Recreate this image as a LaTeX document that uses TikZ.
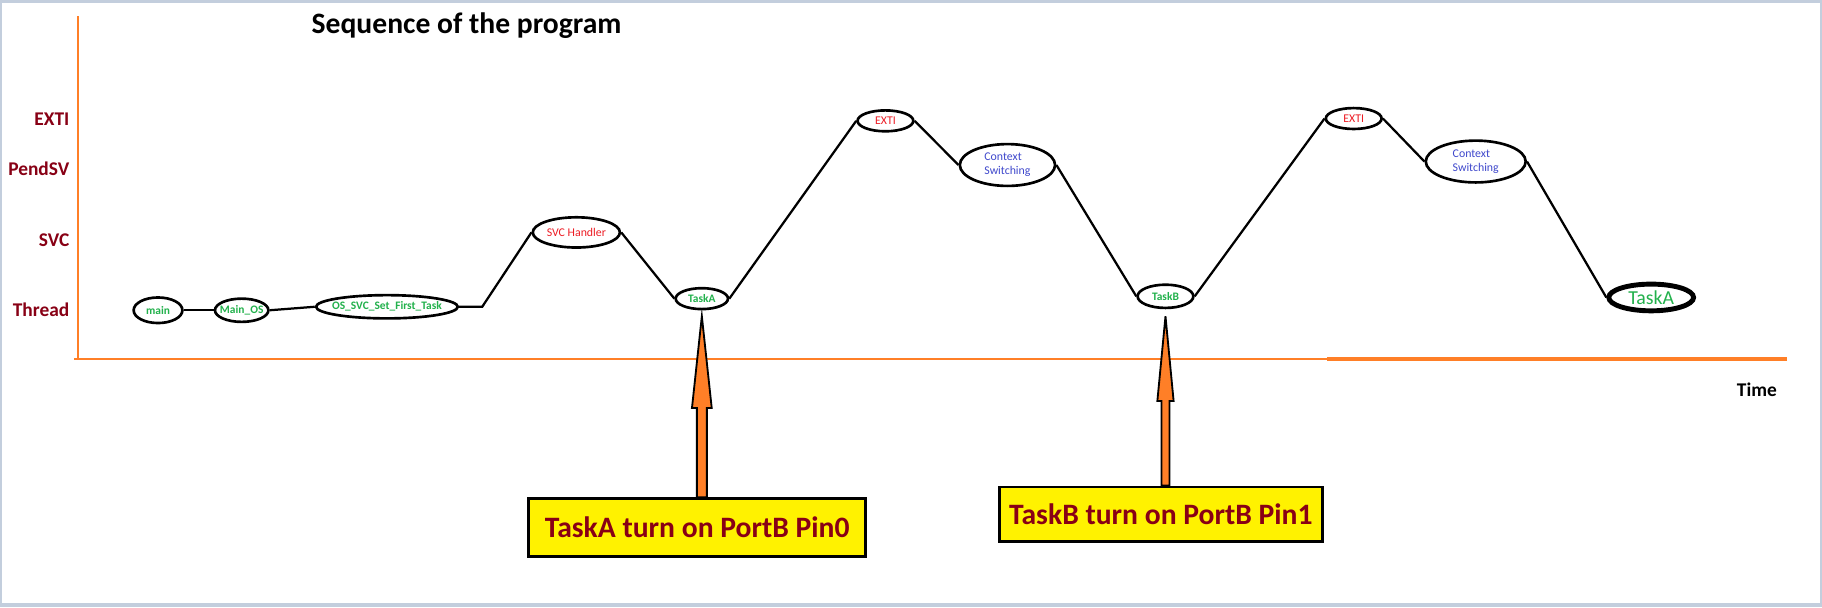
\documentclass[tikz,border=0pt]{standalone}
\usepackage{fontspec}
\setmainfont{Carlito}
\usetikzlibrary{shapes.geometric,calc}

\definecolor{axisorange}{HTML}{FF7F27}
\definecolor{levelred}{HTML}{880015}
\definecolor{taskgreen}{HTML}{22B14C}
\definecolor{isrred}{HTML}{ED1C24}
\definecolor{switchblue}{HTML}{3F48CC}
\definecolor{noteyellow}{HTML}{FFF200}
\definecolor{framegray}{HTML}{C3CEDD}

\begin{document}
\begin{tikzpicture}[x=0.2mm, y=-0.2mm,
    state/.style={ellipse, draw, line width=1.3pt, inner xsep=-20pt, inner ysep=-10pt, font=\fontsize{5.8}{6.8}\selectfont},
    task/.style={state, text=taskgreen, font=\fontsize{5.6}{6.8}\selectfont\bfseries},
    level/.style={anchor=east, inner sep=0pt, text=levelred, font=\fontsize{9.5}{12}\selectfont\bfseries},
    note/.style={rectangle, draw, line width=1.2pt, fill=noteyellow, text=levelred, font=\fontsize{14.5}{17}\selectfont\bfseries},
    link/.style={line width=1.1pt},
    pinarrow/.style={fill=axisorange, draw=black, line width=0.9pt, line join=miter}]

    % screenshot frame
    \fill[framegray] (0,0) rectangle (1568,522.4);
    \fill[white] (2,3) rectangle (1566,518.5);
    \useasboundingbox (0,0) rectangle (1568,522.4);

    % axes
    \draw[axisorange, line width=1.3pt] (67,14) -- (67,309);
    \draw[axisorange, line width=1.3pt] (64,309) -- (1142,309);
    \draw[axisorange, line width=1.9pt] (1142,309) -- (1538,309);

    \node[level] (lvlexti) at (60,103) {EXTI};
    \node[level] (lvlpendsv) at (60,145) {PendSV};
    \node[level] (lvlsvc) at (60,207) {SVC};
    \node[level] (lvlthread) at (60,267) {Thread};

    \node[anchor=west, font=\fontsize{14.5}{17}\selectfont\bfseries] (title) at (262,22) {Sequence of the program};
    \node[font=\fontsize{9.5}{11}\selectfont\bfseries] (time) at (1512,335) {Time};

    % program states
    \node[task, minimum width=8.4mm, minimum height=4.4mm] (main) at (136,267) {main};
    \node[task, minimum width=9.2mm, minimum height=4mm] (mainos) at (208,267) {Main\_OS};
    \node[task, minimum width=24.4mm, minimum height=4mm] (firsttask) at (333,264) {OS\_SVC\_Set\_First\_Task};
    \node[state, minimum width=15mm, minimum height=5.2mm, text=isrred] (svc) at (496,200) {SVC Handler};
    \node[task, minimum width=9mm, minimum height=3.6mm] (taskA) at (604,257) {TaskA};
    \node[state, minimum width=9.6mm, minimum height=3.6mm, text=isrred] (extiA) at (762,104) {EXTI};
    \node[state, minimum width=16.4mm, minimum height=7.2mm, text=switchblue, align=left] (switchA) at (867,142) {Context\\Switching};
    \node[task, minimum width=9.6mm, minimum height=4mm] (taskB) at (1003,255) {TaskB};
    \node[state, minimum width=9.6mm, minimum height=3.6mm, text=isrred] (extiB) at (1165,102) {EXTI};
    \node[state, minimum width=17.2mm, minimum height=7.2mm, text=switchblue, align=left] (switchB) at (1270,139) {Context\\Switching};
    \node[state, line width=2.4pt, minimum width=14.6mm, minimum height=4.6mm, text=taskgreen, font=\fontsize{9.7}{11}\selectfont] (taskAend) at (1421,256) {TaskA};

    \coordinate (bend) at (415,264);
    \draw[link] (main.east) -- (mainos.west);
    \draw[link] (mainos.east) -- (firsttask.west);
    \draw[link] (firsttask.east) -- (bend) -- (svc.west);
    \draw[link] (svc.east) -- (taskA.west);
    \draw[link] (taskA.east) -- (extiA.west);
    \draw[link] (extiA.east) -- (switchA.west);
    \draw[link] (switchA.east) -- (taskB.west);
    \draw[link] (taskB.east) -- (extiB.west);
    \draw[link] (extiB.east) -- (switchB.west);
    \draw[link] (switchB.east) -- (taskAend.west);

    % notes
    \node[note, minimum width=58mm, minimum height=10mm] (noteA) at (600,454) {TaskA turn on PortB Pin0};
    \node[note, minimum width=55.6mm, minimum height=9.4mm] (noteB) at (999,442.5) {TaskB turn on PortB Pin1};

    \coordinate (tipA) at ($(taskA.south)+(0,5)$);
    \coordinate (baseA) at (tipA |- noteA.north);
    \draw[pinarrow] (tipA) -- ++(8.5,79) -- ++(-4.2,0) -- ($(baseA)+(4.3,0)$) -- ($(baseA)+(-4.3,0)$) -- ($(tipA)+(-4.3,79)$) -- ++(-4.2,0) -- cycle;
    \coordinate (tipB) at ($(taskB.south)+(0,6)$);
    \coordinate (baseB) at (tipB |- noteB.north);
    \draw[pinarrow] (tipB) -- ++(7,73) -- ++(-3.5,0) -- ($(baseB)+(3.5,0)$) -- ($(baseB)+(-3.5,0)$) -- ($(tipB)+(-3.5,73)$) -- ++(-3.5,0) -- cycle;
\end{tikzpicture}
\end{document}
